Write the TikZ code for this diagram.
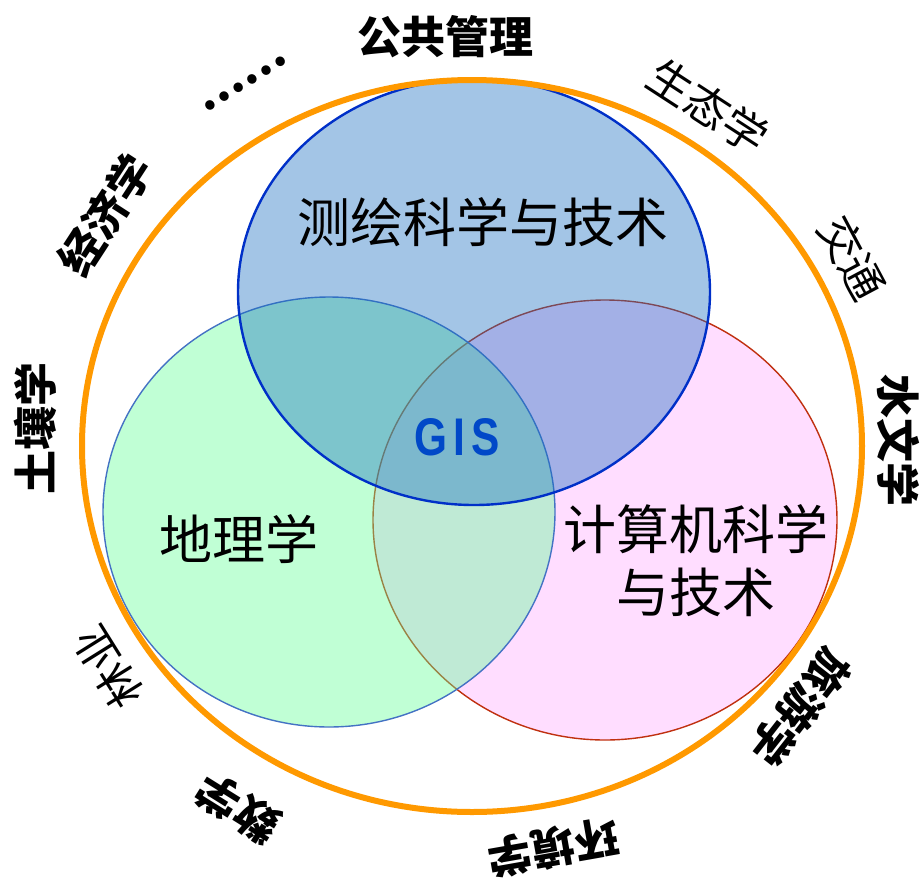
\documentclass[tikz,border=0pt]{standalone}
\usepackage{fontspec}
\usepackage{xcolor}
\usepackage{tikz}

\newfontfamily\cjk{Noto Sans CJK SC}
\newfontfamily\gisfont[FakeStretch=0.8, LetterSpace=12]{Liberation Sans}

\definecolor{ringorange}{RGB}{255,153,0}
\definecolor{cehuifill}{RGB}{25,110,193}
\definecolor{cehuiline}{RGB}{0,48,200}
\definecolor{dilifill}{RGB}{97,255,150}
\definecolor{dililine}{RGB}{68,114,196}
\definecolor{jsjfill}{RGB}{255,221,255}
\definecolor{jsjline}{RGB}{192,48,16}
\definecolor{gisblue}{RGB}{0,72,200}

\begin{document}
\begin{tikzpicture}[x=0.5pt, y=-0.5pt,
    every node/.style={inner sep=0pt},
    field/.style={font=\cjk\fontsize{22}{26}\selectfont},
    boldfield/.style={font=\cjk\bfseries\fontsize{22}{26}\selectfont},
    core/.style={font=\cjk\fontsize{26.5}{31.5}\selectfont, align=center}]
     \useasboundingbox (0,0) rectangle (922,879);

     % the three sets
     \draw[jsjline, line width=0.7pt, fill=jsjfill] (605,520) ellipse [x radius=232, y radius=220];
     \draw[dililine, line width=0.7pt, fill=dilifill, fill opacity=0.4] (329,512) ellipse [x radius=226, y radius=215];
     \draw[cehuiline, line width=1.2pt, fill=cehuifill, fill opacity=0.4] (474,292) ellipse [x radius=236, y radius=213];

     % outer ring
     \draw[ringorange, line width=3pt] (472,446) ellipse [x radius=390, y radius=366];

     \node[core] (cehui) at (483,222) {测绘科学与技术};
     \node[core] (dili) at (239,539) {地理学};
     \node[core] (jisuanji) at (696,561) {计算机科学\\与技术};
     \node[font=\gisfont\bfseries\fontsize{26.5}{30}\selectfont, text=gisblue] (gis) at (457,437) {GIS};

     % fields round the ring
     \node[boldfield] (gonggong) at (445,37) {公共管理};
     \node[boldfield, rotate=32] (dots) at (245,84) {……};
     \node[boldfield, rotate=57] (jingji) at (105,215) {经济学};
     \node[field, rotate=-33] (shengtai) at (708,106) {生态学};
     \node[field, rotate=-62] (jiaotong) at (852,258) {交通};
     \node[boldfield, rotate=-90] (shuiwen) at (898,440) {水文学};
     \node[boldfield, rotate=-128] (lvyou) at (800,708) {旅游学};
     \node[boldfield, rotate=190] (huanjing) at (553,848) {环境学};
     \node[boldfield, rotate=148] (shuxue) at (238,808) {数学};
     \node[field, rotate=122] (linye) at (108,667) {林业};
     \node[boldfield, rotate=90] (turang) at (35,428) {土壤学};
    \end{tikzpicture}
\end{document}
